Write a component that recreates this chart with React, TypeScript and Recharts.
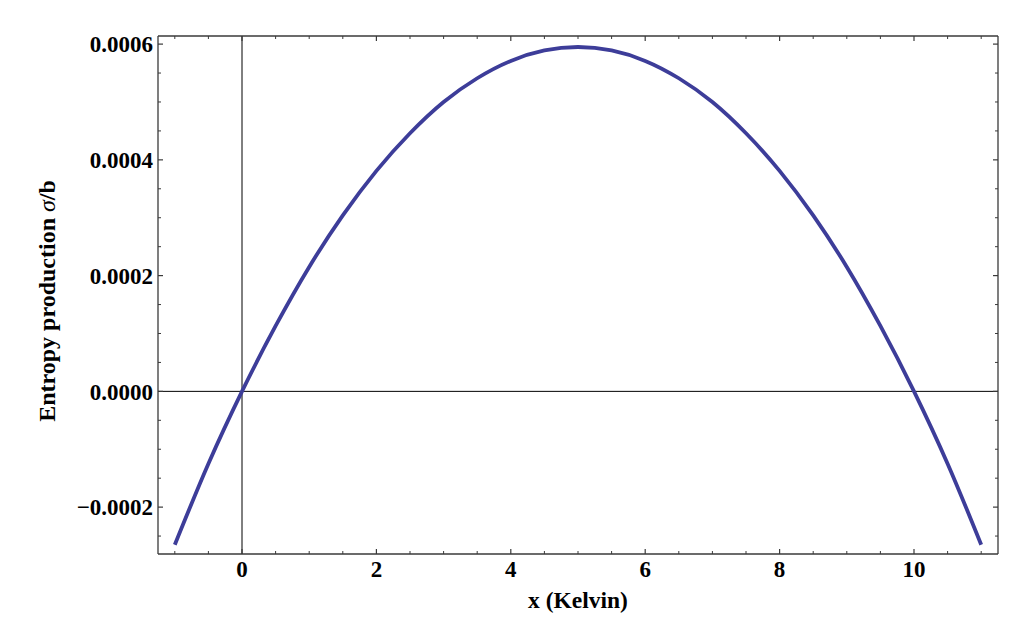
import React from 'react';
import { LineChart, Line, XAxis, YAxis, ReferenceLine } from 'recharts';

const xValues = [-1, -0.5, 0, 0.5, 1, 1.5, 2, 2.5, 3, 3.5, 4, 4.5, 5, 5.5, 6, 6.5, 7, 7.5, 8, 8.5, 9, 9.5, 10, 10.5, 11];
const sigmaValues = [
  -0.000265, -0.000125, 0, 0.000113, 0.000215, 0.000304, 0.000381, 0.000446, 0.0005, 0.000541,
  0.000571, 0.000589, 0.000595, 0.000589, 0.000571, 0.000541, 0.0005, 0.000446, 0.000381, 0.000304,
  0.000215, 0.000113, 0, -0.000125, -0.000265,
];

const xMajorTicks = [0, 2, 4, 6, 8, 10];
const xMinorTicks = [-1, -0.5, 0.5, 1, 1.5, 2.5, 3, 3.5, 4.5, 5, 5.5, 6.5, 7, 7.5, 8.5, 9, 9.5, 10.5, 11];
const yMajorTicks = [-0.0002, 0, 0.0002, 0.0004, 0.0006];
const yMinorTicks = [-0.00025, -0.00015, -0.0001, -0.00005, 0.00005, 0.0001, 0.00015, 0.00025, 0.0003, 0.00035, 0.00045, 0.0005, 0.00055];

const xDomain = [-1.25, 11.25];
const yDomain = [-0.000281, 0.000614];

const xLabel = 'x (Kelvin)';
const yLabelMain = 'Entropy production ';
const yLabelSigma = 'σ';
const yLabelTail = '/b';

const data = xValues.map((x, i) => ({ x, s: sigmaValues[i] }));
const xAllTicks = [...xMajorTicks, ...xMinorTicks];
const yAllTicks = [...yMajorTicks, ...yMinorTicks];

const FONT = 'Liberation Serif, Times New Roman, serif';
const FRAME = '#3a3a3a';
const tickStyle = { fill: '#000', fontSize: 23, fontWeight: 'bold', fontFamily: FONT };
const MAJOR_LEN = 5;
const MINOR_LEN = 3;

const fmtY = (v: number) => (v < 0 ? '\u2212' : '') + Math.abs(v).toFixed(4);

const makeTickMark = (majors: number[], dx: number, dy: number) => (props: any) => {
  const { x, y, payload } = props;
  const isMajor = majors.some((m) => Math.abs(m - payload.value) < 1e-12);
  const len = isMajor ? MAJOR_LEN : MINOR_LEN;
  return (
    <line
      x1={x}
      y1={y}
      x2={x + dx * len}
      y2={y + dy * len}
      stroke={FRAME}
      strokeWidth={isMajor ? 1.2 : 1}
    />
  );
};

const BottomTick = makeTickMark(xMajorTicks, 0, -1);
const TopTick = makeTickMark(xMajorTicks, 0, 1);
const LeftTick = makeTickMark(yMajorTicks, 1, 0);
const RightTick = makeTickMark(yMajorTicks, -1, 0);

const XLabelContent = (props: any) => {
  const vb = props.viewBox || {};
  return (
    <text
      x={vb.x + vb.width / 2}
      y={vb.y + 54}
      textAnchor="middle"
      fontFamily={FONT}
      fontWeight="bold"
      fontSize={23.5}
      fill="#000"
    >
      {xLabel}
    </text>
  );
};

const YLabelContent = (props: any) => {
  const vb = props.viewBox || {};
  const cx = 55;
  const cy = vb.y + vb.height / 2 + 6;
  return (
    <text
      x={cx}
      y={cy}
      transform={`rotate(-90, ${cx}, ${cy})`}
      textAnchor="middle"
      fontFamily={FONT}
      fontWeight="bold"
      fontSize={24}
      fill="#000"
    >
      {yLabelMain}
      <tspan fontStyle="italic" fontWeight="normal">{yLabelSigma}</tspan>
      {yLabelTail}
    </text>
  );
};

export default function App() {
  return (
    <div style={{ position: 'absolute', left: 0, top: 0, width: 1024, height: 624, background: '#fff' }}>
      <LineChart width={1024} height={624} data={data} margin={{ top: 36, right: 26, bottom: 0, left: 0 }}>
        {/* main labelled axes */}
        <XAxis
          xAxisId="main"
          dataKey="x"
          type="number"
          domain={xDomain}
          allowDataOverflow
          ticks={xMajorTicks}
          height={70}
          tickLine={false}
          tickSize={0}
          tickMargin={7}
          axisLine={{ stroke: FRAME, strokeWidth: 1.3 }}
          tick={tickStyle}
          label={{ content: XLabelContent }}
        />
        <YAxis
          yAxisId="main"
          type="number"
          domain={yDomain}
          allowDataOverflow
          ticks={yMajorTicks}
          width={158}
          tickLine={false}
          tickSize={0}
          tickMargin={5}
          axisLine={{ stroke: FRAME, strokeWidth: 1.3 }}
          tick={tickStyle}
          tickFormatter={fmtY}
          label={{ content: YLabelContent }}
        />
        {/* inward tick marks drawn by mirrored frame axes */}
        <XAxis xAxisId="bTicks" dataKey="x" type="number" orientation="bottom" mirror height={1} domain={xDomain} allowDataOverflow ticks={xAllTicks} interval={0} tick={BottomTick} tickSize={0} tickMargin={0} tickLine={false} axisLine={false} />
        <XAxis xAxisId="tTicks" dataKey="x" type="number" orientation="top" mirror height={1} domain={xDomain} allowDataOverflow ticks={xAllTicks} interval={0} tick={TopTick} tickSize={0} tickMargin={0} tickLine={false} axisLine={{ stroke: FRAME, strokeWidth: 1.3 }} />
        <YAxis yAxisId="lTicks" type="number" orientation="left" mirror width={1} domain={yDomain} allowDataOverflow ticks={yAllTicks} interval={0} tick={LeftTick} tickSize={0} tickMargin={0} tickLine={false} axisLine={false} />
        <YAxis yAxisId="rTicks" type="number" orientation="right" mirror width={1} domain={yDomain} allowDataOverflow ticks={yAllTicks} interval={0} tick={RightTick} tickSize={0} tickMargin={0} tickLine={false} axisLine={{ stroke: FRAME, strokeWidth: 1.3 }} />

        <ReferenceLine xAxisId="main" yAxisId="main" x={0} stroke="#000" strokeWidth={1} />
        <ReferenceLine xAxisId="main" yAxisId="main" y={0} stroke="#000" strokeWidth={1} />

        <Line
          xAxisId="main"
          yAxisId="main"
          dataKey="s"
          type="monotone"
          stroke="#3D3D99"
          strokeWidth={3.8}
          dot={false}
          activeDot={false}
          isAnimationActive={false}
        />
      </LineChart>
    </div>
  );
}
